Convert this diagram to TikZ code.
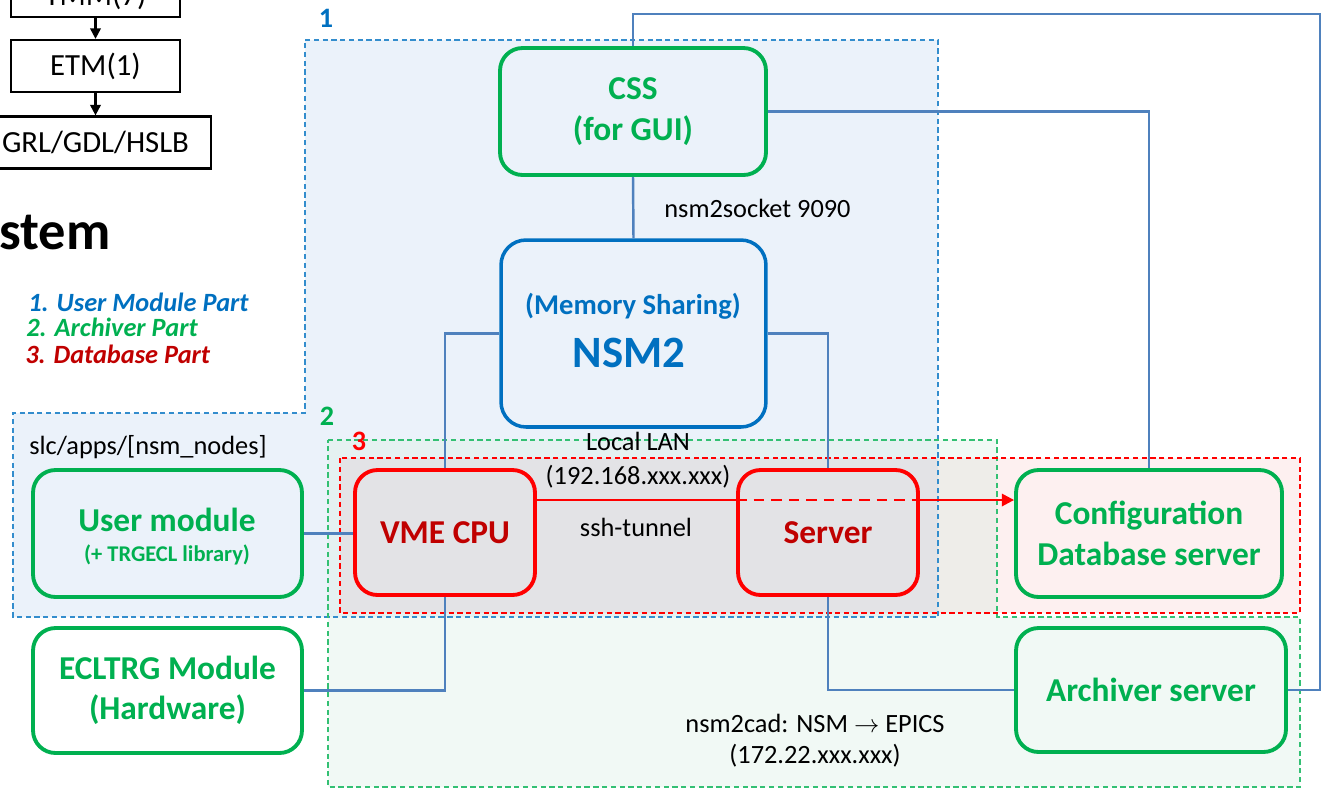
\documentclass[tikz,border=0pt]{standalone}
\usepackage{fontspec}
\setmainfont{Carlito}
\usetikzlibrary{arrows.meta}

\definecolor{cgreen}{HTML}{00B050}
\definecolor{cblue}{HTML}{0070C0}
\definecolor{cred}{HTML}{FF0000}
\definecolor{cdkred}{HTML}{C00000}
\definecolor{clink}{HTML}{4F81BD}
\definecolor{fillA}{HTML}{EBF2FA}
\definecolor{fillB}{HTML}{F1F9F5}
\definecolor{fillAB}{HTML}{E5F1F1}
\definecolor{fillC}{HTML}{FDF0F0}
\definecolor{fillCA}{HTML}{E3E3E6}
\definecolor{fillCB}{HTML}{EEEDE9}

\tikzset{
  partA/.style={draw=cblue!80, dash pattern=on 3pt off 2pt, line width=0.8pt},
  partB/.style={draw=cgreen!80, dash pattern=on 3pt off 2pt, line width=0.8pt},
  partC/.style={draw=cred, dash pattern=on 3pt off 2pt, line width=0.8pt},
  numlbl/.style={inner sep=0pt, font=\bfseries\fontsize{16}{19}\selectfont},
  legend/.style={anchor=base west, inner sep=0pt, font=\bfseries\itshape\fontsize{15}{18}\selectfont},
  note/.style={inner sep=0pt, font=\fontsize{15}{18}\selectfont},
  blkbox/.style={draw, line width=1.3pt, minimum width=3.38cm, minimum height=1.04cm, inner sep=0pt, font=\fontsize{17.5}{21}\selectfont},
  chainarr/.style={-{Triangle[length=6pt,width=6pt]}, line width=1.2pt},
  grnbox/.style={draw=cgreen, line width=2.2pt, rounded corners=0.45cm, text=cgreen, align=center, inner sep=0pt, font=\bfseries\fontsize{19}{23}\selectfont},
  grntxt/.style={inner sep=0pt, text=cgreen, font=\bfseries\fontsize{19}{23}\selectfont},
  bluebox/.style={draw=cblue, line width=2pt, rounded corners=0.5cm, inner sep=0pt},
  bluetxt/.style={inner sep=0pt, text=cblue},
  redbox/.style={draw=cred, line width=2.2pt, rounded corners=0.45cm, minimum width=3.6cm, minimum height=2.5cm, inner sep=0pt, text=cdkred, font=\bfseries\fontsize{19}{23}\selectfont},
  link/.style={draw=clink, line width=1.4pt},
  tunnel/.style={draw=cred, line width=1.4pt},
}

\begin{document}
\begin{tikzpicture}[x=0.02cm, y=-0.02cm]
\useasboundingbox (0,0) rectangle (1325,789);
\clip (0,0) rectangle (1325,789);

% parts 1, 2, 3
\fill[fillA] (305,40) -- (938,40) -- (938,617) -- (13,617) -- (13,413) -- (305,413) -- cycle;
\fill[fillB] (328,440) -- (997,440) -- (997,617) -- (1300,617) -- (1300,787) -- (328,787) -- cycle;
\fill[fillAB] (328,440) rectangle (938,617);
\fill[fillC] (997,458) rectangle (1300,613);
\fill[fillCA] (340,458) rectangle (938,613);
\fill[fillCB] (938,458) rectangle (997,613);
\draw[partA] (305,40) -- (938,40) -- (938,617) -- (13,617) -- (13,413) -- (305,413) -- cycle;
\draw[partB] (328,440) -- (997,440) -- (997,617) -- (1300,617) -- (1300,787) -- (328,787) -- cycle;
\draw[partC] (340,458) rectangle (1300,613);
\node[numlbl, text=cblue] (num1) at (326,18) {1};
\node[numlbl, text=cgreen] (num2) at (327,416) {2};
\node[numlbl, text=cred] (num3) at (359,441) {3};

% trigger chain (cut off at the top)
\node[blkbox] (tmm) at (95.5,-9) {};
\node[inner sep=0pt, font=\fontsize{17.5}{21}\selectfont] (tmmtxt) at (95.5,-4) {TMM(7)};
\node[blkbox] (etm) at (95.5,66) {ETM(1)};
\node[blkbox, minimum width=4.62cm] (grl) at (95.5,142.5) {GRL/GDL/HSLB};
\draw[chainarr] (tmm) -- (etm);
\draw[chainarr] (etm) -- (grl);
\node[anchor=base east, inner sep=0pt, font=\bfseries\fontsize{31}{37}\selectfont] (ttl) at (111,249) {stem};

\node[legend, text=cblue] (lg1) at (28,311) {1. User Module Part};
\node[legend, text=cgreen] (lg2) at (26,336) {2. Archiver Part};
\node[legend, text=cdkred] (lg3) at (25,363) {3. Database Part};

% boxes
\node[grnbox, minimum width=5.32cm, minimum height=2.54cm] (css) at (633,111.5) {CSS\\(for GUI)};
\node[bluebox, minimum width=5.3cm, minimum height=3.74cm] (nsm) at (633.5,333.5) {};
\node[bluetxt, font=\bfseries\fontsize{16.3}{20}\selectfont] (nsmsub) at (633,306) {(Memory Sharing)};
\node[bluetxt, font=\bfseries\fontsize{25.5}{30}\selectfont] (nsmname) at (629,353) {NSM2};
\node[redbox] (vme) at (445,532.5) {VME CPU};
\node[redbox] (srv) at (828,532.5) {Server};
\node[grnbox, minimum width=5.38cm, minimum height=2.54cm] (user) at (167.5,533.5) {};
\node[grntxt] (usertxt) at (167,520) {User module};
\node[grntxt, font=\bfseries\fontsize{12.8}{15}\selectfont] (userlib) at (167,555) {(+ TRGECL library)};
\node[grnbox, minimum width=5.38cm, minimum height=2.5cm] (ecl) at (167.5,690.5) {ECLTRG Module\\(Hardware)};
\node[grnbox, minimum width=5.32cm, minimum height=2.54cm] (cfg) at (1149,533.5) {Configuration\\Database server};
\node[grnbox, minimum width=5.4cm, minimum height=2.48cm] (arch) at (1151,690) {Archiver server};

\node[note, anchor=west] (sock) at (664,208) {nsm2socket 9090};
\node[note] (lan) at (638,441) {Local LAN};
\node[note] (lanip) at (638,477) {(192.168.xxx.xxx)};
\node[note] (ssh) at (636,527) {ssh-tunnel};
\node[note] (slc) at (148,447) {slc/apps/[nsm\_nodes]};
\node[note] (cad) at (815,723) {nsm2cad: NSM $\rightarrow$ EPICS};
\node[note] (cadip) at (815,756) {(172.22.xxx.xxx)};

% links
\coordinate (ctop) at (1320,14);
\draw[link] (css.south) -- (nsm.north);
\draw[link] (css.north) |- (ctop) |- (arch.east);
\draw[link] (css.east) -| (cfg.north);
\draw[link] (nsm.west) -| (vme.north);
\draw[link] (nsm.east) -| (srv.north);
\draw[link] (user.east) -- (user.east -| vme.west);
\draw[link] (ecl.east) -| (vme.south);
\draw[link] (srv.south) |- (arch.west);
\draw[tunnel] ([yshift=0.65cm]vme.east) coordinate (t0) -- (t0 -| srv.west) coordinate (t1);
\draw[tunnel, dash pattern=on 6pt off 4pt] (t1) -- (t1 -| srv.east) coordinate (t2);
\draw[tunnel, -{Triangle[length=7pt,width=7pt]}] (t2) -- (t2 -| cfg.west);
\end{tikzpicture}
\end{document}
